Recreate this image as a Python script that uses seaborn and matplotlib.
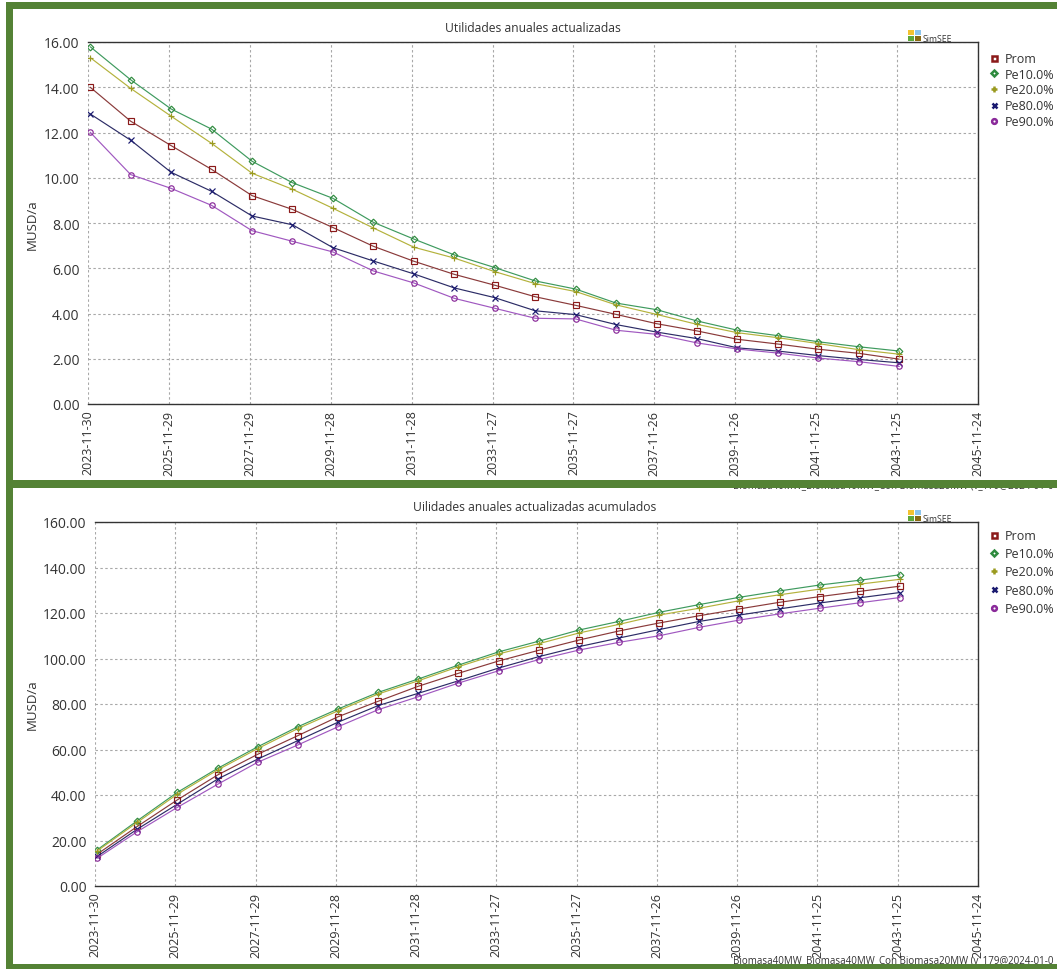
import numpy as np
import pandas as pd
import matplotlib
matplotlib.use("Agg")
import matplotlib.pyplot as plt
import matplotlib.dates as mdates
from matplotlib.patches import Rectangle
from matplotlib.lines import Line2D
import seaborn as sns

# ---------------- data ----------------
series_names = ["Prom", "Pe10.0%", "Pe20.0%", "Pe80.0%", "Pe90.0%"]
first_point = "2023-12-20"
n_points = 21
first_tick = "2023-11-30"
n_ticks = 12

anual_prom = [14.00, 12.50, 11.42, 10.37, 9.21, 8.60, 7.80, 6.97, 6.31, 5.73, 5.25,
              4.74, 4.36, 3.96, 3.55, 3.23, 2.86, 2.65, 2.42, 2.24, 1.98]
anual_pe10 = [15.79, 14.33, 13.04, 12.15, 10.73, 9.78, 9.09, 8.03, 7.29, 6.59, 6.03,
              5.44, 5.08, 4.46, 4.17, 3.67, 3.26, 3.02, 2.75, 2.53, 2.34]
anual_pe20 = [15.31, 13.95, 12.72, 11.52, 10.20, 9.49, 8.65, 7.78, 6.93, 6.45, 5.85,
              5.32, 4.97, 4.38, 3.96, 3.52, 3.15, 2.93, 2.67, 2.40, 2.20]
anual_pe80 = [12.82, 11.66, 10.24, 9.40, 8.31, 7.92, 6.91, 6.32, 5.75, 5.13, 4.70,
              4.12, 3.95, 3.51, 3.18, 2.89, 2.48, 2.34, 2.14, 1.97, 1.82]
anual_pe90 = [12.01, 10.14, 9.53, 8.78, 7.66, 7.19, 6.72, 5.88, 5.35, 4.67, 4.23,
              3.79, 3.76, 3.26, 3.08, 2.70, 2.43, 2.25, 2.03, 1.87, 1.66]

acum_prom = [14.0, 26.2, 37.9, 48.8, 57.9, 66.1, 74.4, 81.2, 87.8, 93.5, 98.9,
             103.6, 108.1, 112.1, 115.6, 118.8, 121.8, 124.7, 127.2, 129.5, 131.8]
acum_pe10 = [15.9, 28.7, 41.2, 51.7, 61.2, 70.0, 77.8, 85.1, 91.0, 97.1, 102.9,
             107.6, 112.5, 116.3, 120.3, 123.7, 126.9, 129.7, 132.3, 134.4, 136.8]
acum_pe20 = [15.4, 28.0, 40.4, 51.0, 60.4, 69.2, 77.0, 84.4, 90.2, 96.4, 102.0,
             106.5, 111.2, 115.0, 119.1, 122.1, 125.4, 128.0, 130.5, 132.7, 134.8]
acum_pe80 = [13.0, 25.0, 36.0, 47.0, 55.8, 63.9, 72.0, 79.3, 84.7, 90.2, 95.8,
             100.8, 105.2, 109.0, 112.7, 116.3, 119.1, 121.8, 124.4, 126.7, 129.0]
acum_pe90 = [12.2, 23.9, 34.6, 44.7, 54.4, 62.0, 70.0, 77.5, 83.2, 89.2, 94.6,
             99.5, 103.7, 107.1, 110.0, 113.7, 116.9, 119.6, 122.1, 124.5, 126.8]

title_top = "Utilidades anuales actualizadas"
title_bottom = "Uilidades anuales actualizadas acumulados"
ylabel = "MUSD/a"
footer = "Biomasa40MW_Biomasa40MW_Con Biomasa20MW (v_179@2024-01-0"

# ---------------- styles ----------------
line_colors = ["#8a3a3a", "#3e9a5e", "#b4b23c", "#2c2c66", "#a058c0"]
marker_colors = ["#8b1a1a", "#2e8b3e", "#9a9a20", "#1a1a70", "#8a2a9a"]
markers = ["s", "D", "+", "x", "o"]
msizes = [3.8, 3.4, 4.6, 4.0, 3.9]
leg_sizes = [3.6, 3.0, 3.8, 3.6, 3.4]

sns.set_theme(style="white")
plt.rcParams["font.family"] = ["Open Sans", "DejaVu Sans"]
TXT = "#333333"

W, H = 1057, 970
fig = plt.figure(figsize=(W / 100, H / 100), dpi=100, facecolor="white")


def fx(x):
    return x / W


def fy(y):
    return 1 - y / H


dates = pd.Timestamp(first_point) + pd.to_timedelta(np.arange(n_points) * 365, unit="D")
ticks = pd.Timestamp(first_tick) + pd.to_timedelta(np.arange(n_ticks) * 730, unit="D")

top_series = [anual_prom, anual_pe10, anual_pe20, anual_pe80, anual_pe90]
bot_series = [acum_prom, acum_pe10, acum_pe20, acum_pe80, acum_pe90]


def make_axes(left_px, top_px, bottom_px, right_px):
    return fig.add_axes([fx(left_px), fy(bottom_px),
                         fx(right_px) - fx(left_px), fy(top_px) - fy(bottom_px)])


ax1 = make_axes(88, 43, 405, 978)
ax2 = make_axes(95, 523, 887, 978)


def draw_panel(ax, series, ymax, ystep):
    for name, vals, lc, mc, mk, ms in zip(series_names, series, line_colors,
                                          marker_colors, markers, msizes):
        df = pd.DataFrame({"fecha": dates, "valor": vals})
        sns.lineplot(data=df, x="fecha", y="valor", ax=ax, color=lc,
                     linewidth=0.85, marker=mk, markersize=ms,
                     markerfacecolor="none", markeredgecolor=mc,
                     markeredgewidth=0.85, legend=False)
    ax.set_xlim(ticks[0], ticks[-1])
    ax.set_ylim(0, ymax)
    ax.set_xticks(ticks)
    ax.xaxis.set_major_formatter(mdates.DateFormatter("%Y-%m-%d"))
    ax.set_yticks(np.arange(0, ymax + ystep / 2, ystep))
    ax.yaxis.set_major_formatter(matplotlib.ticker.FormatStrFormatter("%.2f"))
    ax.tick_params(axis="x", labelrotation=90, labelsize=9, colors=TXT,
                   length=0, pad=4)
    ax.tick_params(axis="y", labelsize=10, colors=TXT, length=0, pad=6)
    ax.grid(True, color="#a8a8a8", linestyle=(0, (2.2, 2.2)), linewidth=0.8)
    ax.set_xlabel("")
    ax.set_ylabel("")
    for side in ["top", "right", "bottom"]:
        ax.spines[side].set_visible(True)
        ax.spines[side].set_color("#333333")
        ax.spines[side].set_linewidth(1.0)
    ax.spines["left"].set_visible(False)
    ax.set_facecolor("white")


draw_panel(ax1, top_series, 16, 2)
draw_panel(ax2, bot_series, 160, 20)

# titles / labels
fig.text(fx(533), fy(28), title_top, ha="center", va="center", fontsize=8.7, color=TXT)
fig.text(fx(535), fy(508), title_bottom, ha="center", va="center", fontsize=8.7, color=TXT)
fig.text(fx(32), fy(225), ylabel, rotation=90, ha="center", va="center", fontsize=9.5, color=TXT)
fig.text(fx(32), fy(705), ylabel, rotation=90, ha="center", va="center", fontsize=9.5, color=TXT)

# legends
handles = [Line2D([], [], linestyle="none", marker=mk, markersize=ls,
                  markerfacecolor="none", markeredgecolor=mc, markeredgewidth=1.8)
           for mk, mc, ls in zip(markers, marker_colors, leg_sizes)]
for ytop, spacing in ((53, 0.22), (530, 0.42)):
    leg = fig.legend(handles, series_names, loc="upper left",
                     bbox_to_anchor=(fx(990), fy(ytop)), frameon=False,
                     fontsize=9, handlelength=0.6, handletextpad=0.55,
                     labelspacing=spacing, borderaxespad=0, borderpad=0)
    for t in leg.get_texts():
        t.set_color(TXT)

# SimSEE logo
logo_cols = [["#f2c230", "#8cc4ec"], ["#5ea83a", "#8a6a12"]]
for ytop in (31, 511):
    for r in range(2):
        for c in range(2):
            x0 = 908 + c * 7
            y0 = ytop + r * 6
            fig.patches.append(Rectangle((fx(x0), fy(y0 + 5)), fx(6), 5 / H,
                                         transform=fig.transFigure,
                                         facecolor=logo_cols[r][c], edgecolor="none",
                                         zorder=5))
    fig.text(fx(923), fy(ytop + 8), "SimSEE", ha="left", va="center",
             fontsize=6.2, color=TXT)

# footers
fig.text(fx(733), fy(480), footer, ha="left", va="top", fontsize=7.0,
         color=TXT, zorder=2)
fig.text(fx(733), fy(966), footer, ha="left", va="bottom", fontsize=7.0,
         color=TXT, zorder=2)

# green frame
green = "#548235"
frames = [(6, 3, W - 6, 7),      # top band
          (6, 3, 7, H - 3),      # left band
          (6, 481, W - 6, 8),    # middle band
          (6, 965, W - 6, 5)]    # bottom band
for x, y, w, h in frames:
    fig.patches.append(Rectangle((fx(x), fy(y + h)), w / W, h / H,
                                 transform=fig.transFigure, facecolor=green,
                                 edgecolor="none", zorder=10))

fig.savefig("out.png", dpi=100, facecolor="white")
